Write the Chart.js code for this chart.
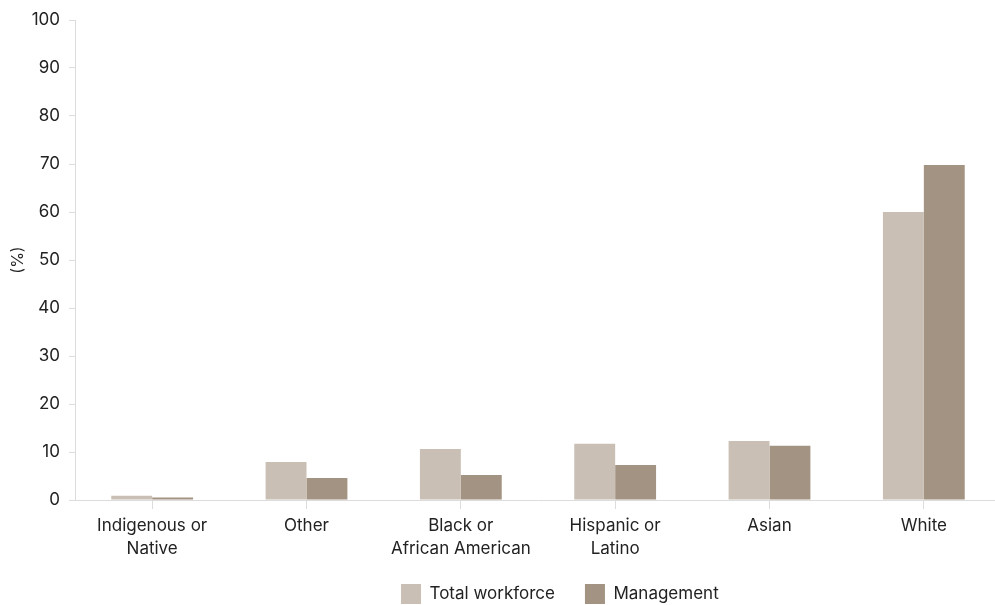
<!DOCTYPE html>
<html>
<head>
<meta charset="utf-8">
<script src="https://cdn.jsdelivr.net/npm/chart.js@4/dist/chart.umd.min.js"></script>
<style>
html,body{margin:0;padding:0;background:#fff;overflow:hidden;}
#wrap{position:relative;width:995px;height:605px;overflow:hidden;}
#box{position:absolute;left:0;top:0;width:1001px;height:614px;}
</style>
</head>
<body>
<div id="wrap"><div id="box"><canvas id="c"></canvas></div></div>
<script>
const categories = [["Indigenous or","Native"],"Other",["Black or","African American"],["Hispanic or","Latino"],"Asian","White"];
const totalWorkforce = [0.9, 7.9, 10.6, 11.7, 12.3, 60.0];
const management = [0.5, 4.6, 5.2, 7.3, 11.3, 69.8];
const yTicks = [0,10,20,30,40,50,60,70,80,90,100];

const FONT = "Inter, 'Noto Sans', sans-serif";
Chart.defaults.font.family = FONT;
Chart.defaults.font.size = 17;
Chart.defaults.color = '#222';

const LEGEND_PAD = 30;
const legendShift = {
  id: 'legendShift',
  afterLayout(chart) {
    const lg = chart.legend;
    if (lg && lg.lineWidths && lg.lineWidths.length) {
      const firstX = (lg.left + LEGEND_PAD + lg.right - lg.lineWidths[0]) / 2;
      const dx = 401 - firstX;
      lg.left += dx; lg.right += dx;
    }
  }
};

new Chart(document.getElementById('c'), {
  type: 'bar',
  data: {
    labels: categories,
    datasets: [
      {label: 'Total workforce', data: totalWorkforce, backgroundColor: '#c9bfb4', categoryPercentage: 0.53, barPercentage: 1.0},
      {label: 'Management', data: management, backgroundColor: '#a39382', categoryPercentage: 0.53, barPercentage: 1.0}
    ]
  },
  plugins: [legendShift],
  options: {
    responsive: true,
    maintainAspectRatio: false,
    animation: false,
    layout: {padding: {top: 20, right: 0, left: 0, bottom: 0}},
    plugins: {
      tooltip: {enabled: false},
      legend: {
        position: 'bottom',
        labels: {boxWidth: 20, boxHeight: 20, padding: LEGEND_PAD, color: '#222', font: {size: 17}}
      }
    },
    scales: {
      x: {
        grid: {display: true, offset: false, drawOnChartArea: false, drawTicks: true, tickLength: 9, color: '#dcdcdc'},
        border: {color: '#dcdcdc'},
        ticks: {maxRotation: 0, autoSkip: false, padding: 5, font: {size: 17, lineHeight: 1.35}, color: '#222'},
        afterFit: s => { s.height = 54; }
      },
      y: {
        min: 0, max: 100,
        afterBuildTicks: s => { s.ticks = yTicks.map(v => ({value: v})); },
        grid: {display: true, drawOnChartArea: false, drawTicks: true, tickLength: 6, color: '#dcdcdc'},
        border: {color: '#dcdcdc'},
        ticks: {padding: 9, font: {size: 17}, color: '#222'},
        title: {display: true, text: '(%)', font: {size: 16}, color: '#222', padding: {top: 9, bottom: 0}},
        afterFit: s => { s.width = 75; }
      }
    }
  }
});
</script>
</body>
</html>
